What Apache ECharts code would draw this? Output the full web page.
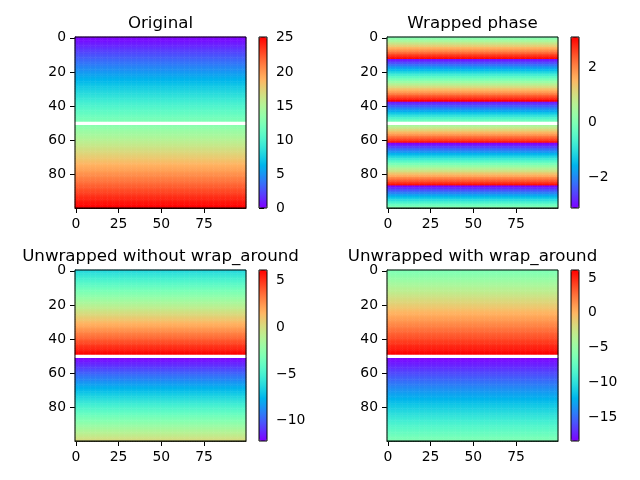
<!DOCTYPE html>
<html><head><meta charset="utf-8">
<script src="https://cdn.jsdelivr.net/npm/echarts@6/dist/echarts.min.js"></script>
<style>html,body{margin:0;padding:0;background:#fff}#c{width:640px;height:480px}</style>
</head><body><div id="c"></div>
<script>
// Row values (each row is constant across the 100 columns); row 50 is masked.
const original = [0.00,0.25,0.51,0.76,1.02,1.27,1.52,1.78,2.03,2.28,
2.54,2.79,3.05,3.30,3.55,3.81,4.06,4.32,4.57,4.82,
5.08,5.33,5.59,5.84,6.09,6.35,6.60,6.85,7.11,7.36,
7.62,7.87,8.12,8.38,8.63,8.89,9.14,9.39,9.65,9.90,
10.15,10.41,10.66,10.92,11.17,11.42,11.68,11.93,12.19,12.44,
null,12.95,13.20,13.45,13.71,13.96,14.22,14.47,14.72,14.98,
15.23,15.49,15.74,15.99,16.25,16.50,16.76,17.01,17.26,17.52,
17.77,18.02,18.28,18.53,18.79,19.04,19.29,19.55,19.80,20.06,
20.31,20.56,20.82,21.07,21.32,21.58,21.83,22.09,22.34,22.59,
22.85,23.10,23.36,23.61,23.86,24.12,24.37,24.62,24.88,25.13];

const wrappedPhase = [0.00,0.25,0.51,0.76,1.02,1.27,1.52,1.78,2.03,2.28,
2.54,2.79,3.05,-2.98,-2.73,-2.48,-2.22,-1.97,-1.71,-1.46,
-1.21,-0.95,-0.70,-0.44,-0.19,0.06,0.32,0.57,0.83,1.08,
1.33,1.59,1.84,2.09,2.35,2.60,2.86,3.11,-2.92,-2.67,
-2.41,-2.16,-1.90,-1.65,-1.40,-1.14,-0.89,-0.63,-0.38,-0.13,
null,0.38,0.63,0.89,1.14,1.40,1.65,1.90,2.16,2.41,
2.67,2.92,-3.11,-2.86,-2.60,-2.35,-2.09,-1.84,-1.59,-1.33,
-1.08,-0.83,-0.57,-0.32,-0.06,0.19,0.44,0.70,0.95,1.21,
1.46,1.71,1.97,2.22,2.48,2.73,2.98,-3.05,-2.79,-2.54,
-2.28,-2.03,-1.78,-1.52,-1.27,-1.02,-0.76,-0.51,-0.25,0.00];

const unwrappedNoWrap = [-6.28,-6.03,-5.78,-5.52,-5.27,-5.01,-4.76,-4.51,-4.25,-4.00,
-3.74,-3.49,-3.24,-2.98,-2.73,-2.48,-2.22,-1.97,-1.71,-1.46,
-1.21,-0.95,-0.70,-0.44,-0.19,0.06,0.32,0.57,0.83,1.08,
1.33,1.59,1.84,2.09,2.35,2.60,2.86,3.11,3.36,3.62,
3.87,4.13,4.38,4.63,4.89,5.14,5.39,5.65,5.90,6.16,
null,-12.19,-11.93,-11.68,-11.42,-11.17,-10.92,-10.66,-10.41,-10.15,
-9.90,-9.65,-9.39,-9.14,-8.89,-8.63,-8.38,-8.12,-7.87,-7.62,
-7.36,-7.11,-6.85,-6.60,-6.35,-6.09,-5.84,-5.59,-5.33,-5.08,
-4.82,-4.57,-4.32,-4.06,-3.81,-3.55,-3.30,-3.05,-2.79,-2.54,
-2.28,-2.03,-1.78,-1.52,-1.27,-1.02,-0.76,-0.51,-0.25,0.00];

const unwrappedWrap = [-6.28,-6.03,-5.78,-5.52,-5.27,-5.01,-4.76,-4.51,-4.25,-4.00,
-3.74,-3.49,-3.24,-2.98,-2.73,-2.48,-2.22,-1.97,-1.71,-1.46,
-1.21,-0.95,-0.70,-0.44,-0.19,0.06,0.32,0.57,0.83,1.08,
1.33,1.59,1.84,2.09,2.35,2.60,2.86,3.11,3.36,3.62,
3.87,4.13,4.38,4.63,4.89,5.14,5.39,5.65,5.90,6.16,
null,-18.47,-18.21,-17.96,-17.71,-17.45,-17.20,-16.95,-16.69,-16.44,
-16.18,-15.93,-15.68,-15.42,-15.17,-14.91,-14.66,-14.41,-14.15,-13.90,
-13.65,-13.39,-13.14,-12.88,-12.63,-12.38,-12.12,-11.87,-11.61,-11.36,
-11.11,-10.85,-10.60,-10.35,-10.09,-9.84,-9.58,-9.33,-9.08,-8.82,
-8.57,-8.31,-8.06,-7.81,-7.55,-7.30,-7.04,-6.79,-6.54,-6.28];

const nCols = 100;
const xTickLabels = [0, 25, 50, 75];
const yTickLabels = [0, 20, 40, 60, 80];
const titles = ['Original', 'Wrapped phase', 'Unwrapped without wrap_around', 'Unwrapped with wrap_around'];
const cbTicks = [[0,5,10,15,20,25], [-2,0,2], [-10,-5,0,5], [-15,-10,-5,0,5]];
const panelData = [original, wrappedPhase, unwrappedNoWrap, unwrappedWrap];

// layout (pixels)
const layout = [
  {left: 75, top: 37, cbLeft: 259},
  {left: 387, top: 37, cbLeft: 571},
  {left: 75, top: 270, cbLeft: 259},
  {left: 387, top: 270, cbLeft: 571}
];
const SIZE = 171, CBW = 8;
const FONT = 'DejaVu Sans';
const TICK_FS = 13.9, TITLE_FS = 16.67;

function rainbow(n) {
  const out = [];
  for (let i = 0; i < n; i++) {
    const x = i / (n - 1);
    const r = Math.min(1, Math.abs(2 * x - 0.5));
    const g = Math.max(0, Math.sin(Math.PI * x));
    const b = Math.max(0, Math.cos(Math.PI * x / 2));
    out.push('rgb(' + Math.round(r * 255) + ',' + Math.round(g * 255) + ',' + Math.round(b * 255) + ')');
  }
  return out;
}
const cmap = rainbow(41);

const catLabels = Array.from({length: nCols}, (_, i) => String(i));
const minus = v => String(v).replace('-', '\u2212');

const grid = [], xAxis = [], yAxis = [], series = [], visualMap = [], graphic = [];
panelData.forEach((rows, i) => {
  const L = layout[i];
  const vals = rows.filter(v => v !== null);
  const vmin = Math.min(...vals), vmax = Math.max(...vals);
  const masked = rows.indexOf(null);
  const data = [];
  rows.forEach((v, r) => {
    if (v === null) return;
    for (let c = 0; c < nCols; c++) data.push([c, r, v]);
  });
  grid.push({left: L.left, top: L.top, width: SIZE, height: SIZE, show: true, z: 10,
    backgroundColor: 'transparent', borderColor: '#000', borderWidth: 1});
  grid.push({left: L.cbLeft, top: L.top, width: CBW, height: SIZE, show: true, z: 10,
    backgroundColor: 'transparent', borderColor: '#000', borderWidth: 1});
  xAxis.push({type: 'category', data: catLabels, gridIndex: 2 * i, position: 'bottom',
    axisLine: {show: true, lineStyle: {color: '#000', width: 1}},
    axisTick: {show: true, alignWithLabel: true, length: 5, lineStyle: {color: '#000'},
      interval: idx => xTickLabels.indexOf(idx) >= 0},
    axisLabel: {show: true, color: '#000', fontFamily: FONT, fontSize: TICK_FS, margin: 9,
      interval: idx => xTickLabels.indexOf(idx) >= 0},
    splitLine: {show: false}, splitArea: {show: false}});
  xAxis.push({type: 'value', gridIndex: 2 * i + 1, show: false, min: 0, max: 1});
  yAxis.push({type: 'category', data: catLabels, gridIndex: 2 * i, inverse: true, position: 'left',
    axisLine: {show: true, lineStyle: {color: '#000', width: 1}},
    axisTick: {show: true, alignWithLabel: true, length: 5, lineStyle: {color: '#000'},
      interval: idx => yTickLabels.indexOf(idx) >= 0},
    axisLabel: {show: true, color: '#000', fontFamily: FONT, fontSize: TICK_FS, margin: 9,
      interval: idx => yTickLabels.indexOf(idx) >= 0},
    splitLine: {show: false}, splitArea: {show: false}});
  yAxis.push({type: 'value', gridIndex: 2 * i + 1, position: 'right', min: vmin, max: vmax,
    axisLine: {show: false},
    axisTick: {show: true, length: 5, lineStyle: {color: '#000'}, customValues: cbTicks[i]},
    axisLabel: {show: true, color: '#000', fontFamily: FONT, fontSize: TICK_FS, margin: 9,
      customValues: cbTicks[i], formatter: v => minus(v)},
    splitLine: {show: false}});
  series.push({type: 'heatmap', xAxisIndex: 2 * i, yAxisIndex: 2 * i, data: data,
    progressive: 0, animation: false, emphasis: {disabled: true}, itemStyle: {borderWidth: 0},
    markArea: {silent: true, z: 6, zlevel: 0, itemStyle: {color: '#fff', borderWidth: 0, opacity: 1},
      data: [[{yAxis: catLabels[masked - 1]}, {yAxis: catLabels[masked + 1]}]]}});
  visualMap.push({type: 'continuous', seriesIndex: i, dimension: 2, min: vmin, max: vmax,
    inRange: {color: cmap}, left: L.cbLeft, top: L.top, itemWidth: CBW, itemHeight: SIZE,
    padding: 0, calculable: false, text: null, hoverLink: false, show: true, showLabel: false});
  graphic.push({type: 'text', x: L.left + SIZE / 2, y: L.top - 13,
    style: {text: titles[i], font: TITLE_FS + 'px "' + FONT + '"', fill: '#000',
      textAlign: 'center', textVerticalAlign: 'middle', align: 'center', verticalAlign: 'middle'}});
});

const chart = echarts.init(document.getElementById('c'), null, {renderer: 'canvas'});
chart.setOption({
  animation: false,
  backgroundColor: '#fff',
  textStyle: {fontFamily: FONT},
  grid, xAxis, yAxis, series, visualMap, graphic,
  tooltip: {show: false}
});
</script>
</body></html>
